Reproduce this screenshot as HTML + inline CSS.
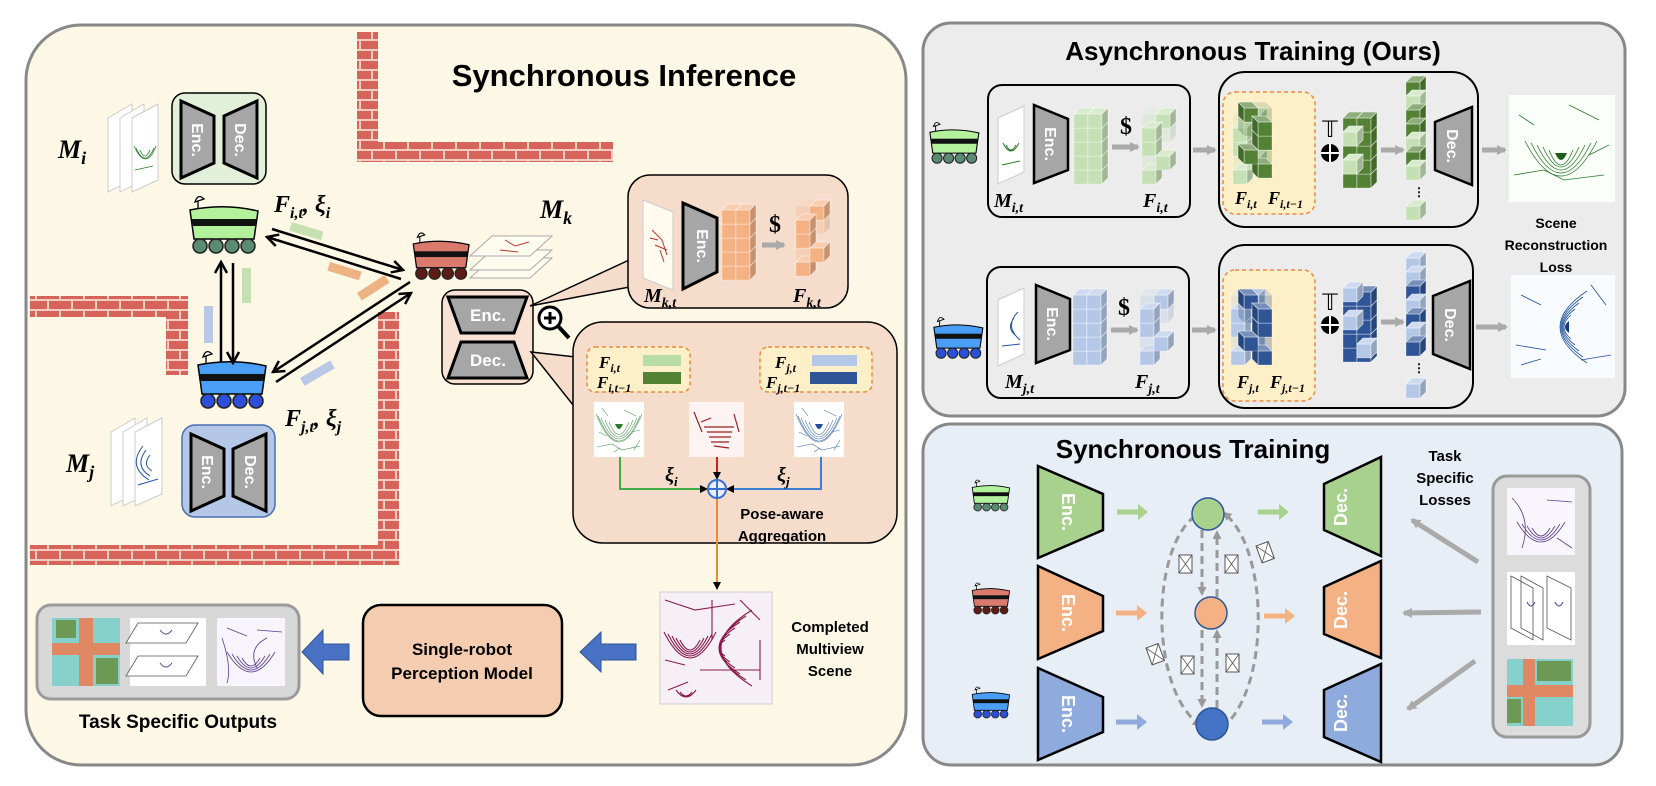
<!DOCTYPE html>
<html><head><meta charset="utf-8"><style>
html,body{margin:0;padding:0;background:#fff}
svg{display:block}
.t{font-family:"Liberation Sans",sans-serif;font-weight:bold}
.m{font-family:"Liberation Serif",serif;font-weight:bold;font-style:italic}
.w{fill:#fff;font-family:"Liberation Sans",sans-serif;font-weight:bold}
</style></head><body>
<svg width="1656" height="786" viewBox="0 0 1656 786" xmlns="http://www.w3.org/2000/svg">
<defs>
<pattern id="brick" width="24" height="20" patternUnits="userSpaceOnUse">
<rect width="24" height="20" fill="#f2cdbf"/>
<rect x="1" y="1" width="22" height="8" fill="#d6645a"/>
<rect x="-11" y="11" width="22" height="8" fill="#d6645a"/>
<rect x="13" y="11" width="22" height="8" fill="#d6645a"/>
</pattern>
<g id="cube" stroke="#fff" stroke-opacity=".5" stroke-width=".6">
<path d="M0 6h14v14H0z"/>
<path d="M0 6l6-6h14l-6 6z"/><path d="M0 6l6-6h14l-6 6z" fill="#fff" fill-opacity=".35"/>
<path d="M14 6l6-6v14l-6 6z"/><path d="M14 6l6-6v14l-6 6z" fill="#000" fill-opacity=".18"/>
</g>
<g id="grid">
<use href="#cube" x="0" y="60"/><use href="#cube" x="14" y="60"/>
<use href="#cube" x="0" y="46"/><use href="#cube" x="14" y="46"/>
<use href="#cube" x="0" y="32"/><use href="#cube" x="14" y="32"/>
<use href="#cube" x="0" y="18"/><use href="#cube" x="14" y="18"/>
<use href="#cube" x="0" y="4"/><use href="#cube" x="14" y="4"/>
</g>
<g id="sparse">
<g opacity=".3"><use href="#cube" x="0" y="46"/><use href="#cube" x="14" y="18"/><use href="#cube" x="0" y="4"/></g>
<use href="#cube" x="0" y="60"/><use href="#cube" x="14" y="46"/>
<use href="#cube" x="0" y="32"/><use href="#cube" x="14" y="4"/>
<use href="#cube" x="0" y="18"/>
</g>
<g id="robot">
<path d="M12 17 V8" stroke="#000" stroke-width="1.3" fill="none"/>
<path d="M9 9 q3-9 9-3 z" fill="#fff" stroke="#000" stroke-width="1.3"/>
<path d="M4 17 Q38 10 72 18 L68 46 H8 Z" stroke="#000" stroke-width="1.5"/>
<rect x="6" y="26" width="64" height="7" fill="#111"/>
<g style="fill:var(--w)" stroke="#222" stroke-width="1.5">
<circle cx="14" cy="53" r="7"/><circle cx="30" cy="53" r="7"/><circle cx="46" cy="53" r="7"/><circle cx="62" cy="53" r="7"/></g>
</g>
<g id="map">
<rect width="50" height="55" fill="#fff"/>
<g fill="none" stroke="currentColor" stroke-width=".6" opacity=".8">
<path d="M15 20 q10 25 20 0"/><path d="M11 18 q14 34 28 0"/><path d="M7 16 q18 42 36 0"/><path d="M4 14 q21 50 42 0"/><path d="M2 12 q23 56 46 0"/>
<path d="M3 45 l15 -3 l10 6 l18 -4"/><path d="M30 8 l12 6 M5 30 l8 4 M38 30 l8 -2 M8 6 l6 8 M40 48 l6 -10 M20 50 l6 -4"/></g>
<path d="M21 22 q4 10 8 0 z" fill="currentColor"/>
</g>
<g id="env"><rect width="13" height="18" fill="#fff" stroke="#555" stroke-width="1"/><path d="M0 0 L13 18 M13 0 L0 18" stroke="#555" stroke-width=".8"/></g>
<marker id="ah" markerWidth="8" markerHeight="8" refX="6" refY="4" orient="auto" markerUnits="userSpaceOnUse"><path d="M0 0 L8 4 L0 8 z" fill="#000"/></marker>
<marker id="ahk" markerWidth="14" markerHeight="14" refX="12" refY="7" orient="auto" markerUnits="userSpaceOnUse"><path d="M1 1 L12 7 L1 13" fill="none" stroke="#000" stroke-width="2.5"/></marker>
<marker id="ahg" markerWidth="10" markerHeight="10" refX="8" refY="5" orient="auto" markerUnits="userSpaceOnUse"><path d="M0 0 L10 5 L0 10 z" fill="#aaa"/></marker>
<marker id="ahd" markerWidth="9" markerHeight="9" refX="7" refY="4.5" orient="auto" markerUnits="userSpaceOnUse"><path d="M0 0 L9 4.5 L0 9 z" fill="#999"/></marker>
</defs>

<!-- LEFT PANEL -->
<rect x="26" y="25" width="880" height="740" rx="55" fill="#fdf7e6" stroke="#888" stroke-width="3"/>
<text x="624" y="86" class="t" font-size="31" text-anchor="middle">Synchronous Inference</text>
<rect x="357" y="32" width="21" height="130" fill="url(#brick)"/>
<rect x="357" y="142" width="256" height="20" fill="url(#brick)"/>
<rect x="30" y="296" width="158" height="21" fill="url(#brick)"/>
<rect x="166" y="296" width="22" height="79" fill="url(#brick)"/>
<rect x="378" y="312" width="21" height="253" fill="url(#brick)"/>
<rect x="30" y="545" width="369" height="20" fill="url(#brick)"/>

<text x="58" y="158" class="m" font-size="26">M<tspan font-size="18" dy="6">i</tspan></text>
<g fill="#fff" stroke="#ccc"><path d="M108 118 l24-14 v76 l-24 12z"/><path d="M120 118 l24-14 v76 l-24 12z"/></g>
<path d="M132 118 l26-14 v76 l-26 12z" fill="#fff" stroke="#ccc"/>
<path d="M140 150 q5 12 10 0 M136 148 q9 20 18 0 M134 146 q12 26 22 0 M135 170 l18 -4" stroke="#2d7a2d" fill="none" stroke-width=".8"/>
<rect x="172" y="93" width="94" height="91" rx="13" fill="#e2efd9" stroke="#000" stroke-width="1.5"/>
<path d="M181 101 L214 116 V163 L181 178Z" fill="#a6a6a6" stroke="#000" stroke-width="3"/>
<path d="M224 116 L257 101 V178 L224 163Z" fill="#a6a6a6" stroke="#000" stroke-width="3"/>
<text class="w" font-size="16" transform="translate(192,140) rotate(90)" text-anchor="middle">Enc.</text>
<text class="w" font-size="16" transform="translate(235,140) rotate(90)" text-anchor="middle">Dec.</text>
<use href="#robot" transform="translate(186,193) scale(1)" fill="#b3f19d" style="--w:#5b8a73"/>
<text x="274" y="212" class="m" font-size="24">F<tspan font-size="16" dy="6">i,t</tspan><tspan dy="-6">, ξ</tspan><tspan font-size="16" dy="6">i</tspan></text>

<use href="#robot" transform="translate(410,230) scale(.82)" fill="#d97a6c" style="--w:#5c1e14"/>
<text x="540" y="218" class="m" font-size="26">M<tspan font-size="18" dy="6">k</tspan></text>
<g fill="#fffbee" stroke="#aaa">
<path d="M478 250 h60 l-22 20 h-60z" transform="translate(14,8)"/>
<path d="M478 250 h60 l-22 20 h-60z" transform="translate(14,0)"/>
<path d="M478 236 h60 l-22 20 h-60z" transform="translate(14,0)"/>
</g>
<path d="M505 240 l10 6 l14-4 M500 250 l18 2" stroke="#b33" fill="none"/>

<use href="#robot" transform="translate(194,348)" fill="#4a9ef5" style="--w:#2b4fd8"/>
<text x="285" y="426" class="m" font-size="24">F<tspan font-size="16" dy="6">j,t</tspan><tspan dy="-6">, ξ</tspan><tspan font-size="16" dy="6">j</tspan></text>
<text x="66" y="472" class="m" font-size="26">M<tspan font-size="18" dy="6">j</tspan></text>
<g fill="#fff" stroke="#ccc"><path d="M111 432 l24-14 v76 l-24 12z"/><path d="M123 432 l24-14 v76 l-24 12z"/></g>
<path d="M135 432 l27-14 v76 l-27 12z" fill="#fff" stroke="#ccc"/>
<path d="M150 455 q-8 10 2 16 M146 450 q-12 16 4 26 M143 446 q-16 20 6 34 M138 485 l20 -6" stroke="#2454a0" fill="none" stroke-width="1"/>
<rect x="182" y="425" width="93" height="92" rx="13" fill="#b4c7e7" stroke="#4a6fb0" stroke-width="1.5"/>
<path d="M191 434 L224 449 V496 L191 511Z" fill="#a6a6a6" stroke="#000" stroke-width="3"/>
<path d="M233 449 L266 434 V511 L233 496Z" fill="#a6a6a6" stroke="#000" stroke-width="3"/>
<text class="w" font-size="16" transform="translate(202,472) rotate(90)" text-anchor="middle">Enc.</text>
<text class="w" font-size="16" transform="translate(245,472) rotate(90)" text-anchor="middle">Dec.</text>

<g stroke="#000" stroke-width="2.5" fill="none" marker-end="url(#ahk)">
<line x1="272" y1="229" x2="403" y2="270"/>
<line x1="401" y1="279" x2="267" y2="237"/>
<line x1="221" y1="362" x2="221" y2="262"/>
<line x1="233" y1="263" x2="233" y2="363"/>
<line x1="410" y1="282" x2="273" y2="372"/>
<line x1="276" y1="382" x2="411" y2="293"/>
</g>
<g opacity=".8">
<rect x="292" y="222" width="33" height="9" fill="#b9dba5" transform="rotate(17 292 222)"/>
<rect x="330" y="262" width="33" height="9" fill="#eaa36a" transform="rotate(17 330 262)"/>
<rect x="357" y="293" width="33" height="9" fill="#eaa36a" transform="rotate(-33 357 293)"/>
<rect x="300" y="378" width="35" height="9" fill="#a9bde4" transform="rotate(-30 300 378)"/>
<rect x="242" y="268" width="9" height="35" fill="#b9dba5"/>
<rect x="204" y="306" width="9" height="37" fill="#a9bde4"/>
</g>

<rect x="442" y="290" width="91" height="94" rx="13" fill="#f8e2d4" stroke="#000" stroke-width="1.5"/>
<path d="M448 297 L527 297 L514 333 L461 333Z" fill="#a6a6a6" stroke="#000" stroke-width="3"/>
<path d="M461 342 L514 342 L527 378 L448 378Z" fill="#a6a6a6" stroke="#000" stroke-width="3"/>
<text class="w" font-size="17" x="488" y="321" text-anchor="middle">Enc.</text>
<text class="w" font-size="17" x="488" y="366" text-anchor="middle">Dec.</text>

<path d="M530 306 L640 255 L640 285 Z" fill="#f5dccb" stroke="#000" stroke-width="1.5"/>
<rect x="628" y="175" width="220" height="133" rx="22" fill="#f5dccb" stroke="#000" stroke-width="1.5"/>
<path d="M643 200 l30 12 v78 l-30 -12z" fill="#fffbee" stroke="#ccc"/>
<path d="M652 230 l10 10 l5 15 M655 245 l12 5 M650 238 l8 2 M660 250 l4 12" stroke="#b33" fill="none"/>
<path d="M683 203 L717 218 V272 L683 289Z" fill="#a6a6a6" stroke="#000" stroke-width="3"/>
<text class="w" font-size="16" transform="translate(697,246) rotate(90)" text-anchor="middle">Enc.</text>
<use href="#grid" x="722" y="200" fill="#f4b183"/>
<text x="775" y="232" font-family="Liberation Serif,serif" font-weight="bold" font-size="24" text-anchor="middle">$</text>
<line x1="762" y1="245" x2="784" y2="245" stroke="#aaa" stroke-width="5" marker-end="url(#ahg)"/>
<use href="#sparse" x="796" y="196" fill="#f4b183"/>
<text x="644" y="302" class="m" font-size="20">M<tspan font-size="14" dy="5">k,t</tspan></text>
<text x="793" y="302" class="m" font-size="20">F<tspan font-size="14" dy="5">k,t</tspan></text>

<circle cx="550" cy="318" r="11" fill="#fff" stroke="#000" stroke-width="3"/>
<path d="M544 318h12M550 312v12" stroke="#000" stroke-width="3"/>
<line x1="558" y1="326" x2="569" y2="338" stroke="#000" stroke-width="4"/>

<path d="M531 352 L585 358 L585 420 Z" fill="#f5dccb" stroke="#000" stroke-width="1.5"/>
<rect x="573" y="322" width="324" height="221" rx="30" fill="#f5dccb" stroke="#000" stroke-width="1.5"/>
<rect x="574" y="360" width="12" height="58" fill="#f5dccb"/>
<rect x="587" y="347" width="103" height="45" rx="8" fill="#fdf0c8" stroke="#ec8a3c" stroke-width="1.5" stroke-dasharray="4 3"/>
<rect x="760" y="347" width="112" height="45" rx="8" fill="#fdf0c8" stroke="#ec8a3c" stroke-width="1.5" stroke-dasharray="4 3"/>
<text x="599" y="368" class="m" font-size="17">F<tspan font-size="12" dy="4">i,t</tspan></text>
<text x="597" y="388" class="m" font-size="17">F<tspan font-size="12" dy="4">i,t−1</tspan></text>
<text x="775" y="368" class="m" font-size="17">F<tspan font-size="12" dy="4">j,t</tspan></text>
<text x="766" y="388" class="m" font-size="17">F<tspan font-size="12" dy="4">j,t−1</tspan></text>
<rect x="643" y="355" width="38" height="11" fill="#b9dba5"/><rect x="643" y="372" width="38" height="12" fill="#548235"/>
<rect x="812" y="355" width="45" height="11" fill="#b4c7e7"/><rect x="810" y="372" width="47" height="12" fill="#2f5597"/>
<use href="#map" x="594" y="402" style="color:#2d7a2d"/>
<g transform="translate(689,402)"><rect width="55" height="55" fill="#fdf3f3"/><path d="M15 25 h30 M18 30 h25 M20 35 h22 M22 40 h18 M12 20 l10 -4 M25 44 l15 2 M5 10 l8 20 M45 12 l5 18" stroke="#9c2020" stroke-width="1.2"/></g>
<use href="#map" x="794" y="402" style="color:#1f4f9a"/>
<polyline points="620,457 620,489 706,489" fill="none" stroke="#3fae49" stroke-width="2" marker-end="url(#ah)"/>
<polyline points="821,457 821,489 728,489" fill="none" stroke="#3a7fd4" stroke-width="2" marker-end="url(#ah)"/>
<line x1="717" y1="457" x2="717" y2="478" stroke="#c0261a" stroke-width="2" marker-end="url(#ah)"/>
<text x="665" y="481" class="m" font-size="20">ξ<tspan font-size="13" dy="5">i</tspan></text>
<text x="777" y="481" class="m" font-size="20">ξ<tspan font-size="13" dy="5">j</tspan></text>
<line x1="717" y1="498" x2="717" y2="588" stroke="#ec8a3c" stroke-width="2" marker-end="url(#ah)"/>
<circle cx="717" cy="489" r="9" fill="#e8eefa" stroke="#3a6fd4" stroke-width="2"/>
<path d="M708 489h18M717 480v18" stroke="#3a6fd4" stroke-width="2"/>
<text x="782" y="519" class="t" font-size="15" text-anchor="middle">Pose-aware</text>
<text x="782" y="541" class="t" font-size="15" text-anchor="middle">Aggregation</text>

<rect x="660" y="592" width="112" height="112" fill="#f6f0f6" stroke="#ccc"/>
<g fill="none" stroke="#8a1a4a" stroke-width="1.1">
<path d="M680 640 q10 20 20 0 M676 638 q14 28 28 0 M672 636 q18 36 36 0 M668 634 q22 44 44 0 M664 632 q26 52 52 0"/>
<path d="M725 640 q-12 8 0 16 M730 634 q-22 14 0 28 M735 628 q-32 20 0 40 M740 622 q-42 26 0 52 M746 616 q-52 32 0 64 M752 610 q-62 38 0 76"/>
<path d="M665 600 l30 10 l40 -6 M668 690 l20 -8 M700 670 h60 M712 600 v40 M665 660 l20 5 M740 600 l20 20 M760 640 v40"/>
<path d="M680 692 q6 8 12 0 M676 690 q10 14 20 0"/></g>
<text x="830" y="632" class="t" font-size="15" text-anchor="middle">Completed</text>
<text x="830" y="654" class="t" font-size="15" text-anchor="middle">Multiview</text>
<text x="830" y="676" class="t" font-size="15" text-anchor="middle">Scene</text>
<polygon points="636,644 601,644 601,632 580,652 601,672 601,660 636,660" fill="#4a72c4" stroke="#2f5597"/>
<rect x="363" y="605" width="199" height="111" rx="18" fill="#f4cdb0" stroke="#000" stroke-width="2.5"/>
<text x="462" y="655" class="t" font-size="17" text-anchor="middle">Single-robot</text>
<text x="462" y="679" class="t" font-size="17" text-anchor="middle">Perception Model</text>
<polygon points="349,644 323,644 323,630 302,652 323,674 323,660 349,660" fill="#4a72c4" stroke="#2f5597"/>
<rect x="37" y="605" width="262" height="94" rx="14" fill="#d8d8d8" stroke="#9a9a9a" stroke-width="3"/>
<g transform="translate(52,618)"><rect width="68" height="68" fill="#86d1cc"/><rect x="27" width="14" height="68" fill="#e08864"/><rect y="25" width="68" height="12" fill="#e08864"/><rect x="4" y="2" width="20" height="18" fill="#6c9a55"/><rect x="44" y="40" width="22" height="26" fill="#6c9a55"/></g>
<g transform="translate(130,618)"><rect width="76" height="68" fill="#fff"/><path d="M8 5 h60 l-12 20 h-60z M8 38 h60 l-12 20 h-60z" fill="#fff" stroke="#555" stroke-width=".8"/><path d="M30 12 q6 8 12 0 M30 45 q6 8 12 0" stroke="#5b3c8c" fill="none"/></g>
<g transform="translate(217,618)"><rect width="68" height="68" fill="#f7f5fb"/><path d="M25 40 q9 16 18 0 M20 38 q14 24 28 0 M15 36 q19 32 38 0 M10 34 q24 40 48 0 M10 10 l20 8 M40 12 l25 2 M5 20 q10 30 5 45 M50 20 q-20 10 -10 30" stroke="#5b3c8c" fill="none" stroke-width=".8"/></g>
<text x="178" y="728" class="t" font-size="19" text-anchor="middle">Task Specific Outputs</text>

<!-- ASYNC PANEL -->
<rect x="923" y="23" width="702" height="393" rx="28" fill="#ececec" stroke="#888" stroke-width="3"/>
<text x="1253" y="60" class="t" font-size="26" text-anchor="middle">Asynchronous Training (Ours)</text>

<use href="#robot" transform="translate(927,120) scale(.72)" fill="#b3f19d" style="--w:#5b8a73"/>
<rect x="988" y="85" width="202" height="132" rx="14" fill="none" stroke="#000" stroke-width="2"/>
<path d="M998 118 l26-12 v66 l-26 12z" fill="#fff" stroke="#ccc"/>
<path d="M1006 145 q5 10 10 0 M1003 143 q8 16 16 0 M1002 165 l18 -4" stroke="#2d7a2d" fill="none"/>
<path d="M1034 105 L1068 119 V170 L1034 183Z" fill="#a6a6a6" stroke="#000" stroke-width="2.5"/>
<text class="w" font-size="16" transform="translate(1045,144) rotate(90)" text-anchor="middle">Enc.</text>
<use href="#grid" x="1074" y="104" fill="#c5e0b4"/>
<text x="1126" y="134" font-family="Liberation Serif,serif" font-weight="bold" font-size="24" text-anchor="middle">$</text>
<line x1="1112" y1="147" x2="1138" y2="147" stroke="#aaa" stroke-width="5" marker-end="url(#ahg)"/>
<use href="#sparse" x="1142" y="104" fill="#c5e0b4"/>
<text x="994" y="207" class="m" font-size="20">M<tspan font-size="14" dy="5">i,t</tspan></text>
<text x="1143" y="207" class="m" font-size="20">F<tspan font-size="14" dy="5">i,t</tspan></text>
<line x1="1193" y1="150" x2="1215" y2="150" stroke="#aaa" stroke-width="5" marker-end="url(#ahg)"/>
<rect x="1219" y="72" width="259" height="155" rx="26" fill="none" stroke="#000" stroke-width="2"/>
<rect x="1223" y="92" width="92" height="122" rx="12" fill="#fdf0c8" stroke="#ec8a3c" stroke-width="1.5" stroke-dasharray="4 3"/>
<use href="#sparse" x="1233" y="104" fill="#c5e0b4"/>
<use href="#sparse" x="1272" y="98" fill="#548235" transform="translate(2544,0) scale(-1,1)" />
<text x="1235" y="204" class="m" font-size="18">F<tspan font-size="12" dy="4">i,t</tspan></text>
<text x="1268" y="204" class="m" font-size="18">F<tspan font-size="12" dy="4">i,t−1</tspan></text>
<text x="1330" y="137" font-family="DejaVu Sans,sans-serif" font-size="22" text-anchor="middle">𝕋</text>
<circle cx="1330" cy="153" r="9" fill="#000"/><path d="M1321 153h18M1330 144v18" stroke="#fff" stroke-width="2"/>
<use href="#grid" x="1343" y="108" fill="#548235"/>
<g fill="#c5e0b4"><use href="#cube" x="1343" y="154"/><use href="#cube" x="1343" y="126"/></g>
<line x1="1381" y1="150" x2="1403" y2="150" stroke="#aaa" stroke-width="5" marker-end="url(#ahg)"/>
<g fill="#548235"><use href="#cube" x="1406" y="76"/><use href="#cube" x="1406" y="90" fill="#c5e0b4"/><use href="#cube" x="1406" y="104"/><use href="#cube" x="1406" y="118"/><use href="#cube" x="1406" y="132" fill="#c5e0b4"/><use href="#cube" x="1406" y="146"/><use href="#cube" x="1406" y="160" fill="#c5e0b4"/><use href="#cube" x="1406" y="200" fill="#c5e0b4"/></g>
<text x="1413" y="196" font-size="12" font-weight="bold" font-family="Liberation Sans">⋮</text>
<path d="M1435 122 L1472 107 V185 L1435 170Z" fill="#a6a6a6" stroke="#000" stroke-width="2.5"/>
<text class="w" font-size="16" transform="translate(1447,146) rotate(90)" text-anchor="middle">Dec.</text>
<line x1="1482" y1="150" x2="1505" y2="150" stroke="#aaa" stroke-width="5" marker-end="url(#ahg)"/>
<g transform="translate(1509,95)"><rect width="106" height="107" fill="#fafffa"/><g fill="none" stroke="#2d7a2d" stroke-width=".8"><path d="M40 55 q12 30 24 0 M34 52 q18 40 36 0 M28 50 q24 50 48 0 M22 48 q30 60 60 0 M16 46 q36 70 72 0 M5 80 l30 -5 l20 10 l40 -5 M60 10 l30 15 M10 20 l15 10 M80 60 l20 -10"/></g><path d="M46 58 q6 14 12 0z" fill="#1a5e1a"/></g>
<text x="1556" y="228" class="t" font-size="14" text-anchor="middle">Scene</text>
<text x="1556" y="250" class="t" font-size="14" text-anchor="middle">Reconstruction</text>
<text x="1556" y="272" class="t" font-size="14" text-anchor="middle">Loss</text>

<use href="#robot" transform="translate(931,315) scale(.72)" fill="#4a9ef5" style="--w:#2b4fd8"/>
<rect x="987" y="267" width="202" height="131" rx="14" fill="none" stroke="#000" stroke-width="2"/>
<path d="M998 300 l26-12 v66 l-26 12z" fill="#fff" stroke="#ccc"/>
<path d="M1014 318 q-8 10 2 18 M1018 312 q-14 14 2 28 M1002 346 l18 -2" stroke="#2454a0" fill="none"/>
<path d="M1036 285 L1070 299 V350 L1036 363Z" fill="#a6a6a6" stroke="#000" stroke-width="2.5"/>
<text class="w" font-size="16" transform="translate(1047,324) rotate(90)" text-anchor="middle">Enc.</text>
<use href="#grid" x="1073" y="285" fill="#b4c7e7"/>
<text x="1124" y="315" font-family="Liberation Serif,serif" font-weight="bold" font-size="24" text-anchor="middle">$</text>
<line x1="1111" y1="330" x2="1137" y2="330" stroke="#aaa" stroke-width="5" marker-end="url(#ahg)"/>
<use href="#sparse" x="1140" y="285" fill="#b4c7e7"/>
<text x="1005" y="388" class="m" font-size="20">M<tspan font-size="14" dy="5">j,t</tspan></text>
<text x="1135" y="388" class="m" font-size="20">F<tspan font-size="14" dy="5">j,t</tspan></text>
<line x1="1192" y1="330" x2="1215" y2="330" stroke="#aaa" stroke-width="5" marker-end="url(#ahg)"/>
<rect x="1219" y="245" width="254" height="163" rx="26" fill="none" stroke="#000" stroke-width="2"/>
<rect x="1223" y="270" width="92" height="131" rx="12" fill="#fdf0c8" stroke="#ec8a3c" stroke-width="1.5" stroke-dasharray="4 3"/>
<use href="#sparse" x="1231" y="285" fill="#b4c7e7"/>
<use href="#sparse" x="1272" y="285" fill="#2f5597" transform="translate(2544,0) scale(-1,1)"/>
<text x="1237" y="388" class="m" font-size="18">F<tspan font-size="12" dy="4">j,t</tspan></text>
<text x="1270" y="388" class="m" font-size="18">F<tspan font-size="12" dy="4">j,t−1</tspan></text>
<text x="1330" y="310" font-family="DejaVu Sans,sans-serif" font-size="22" text-anchor="middle">𝕋</text>
<circle cx="1330" cy="325" r="9" fill="#000"/><path d="M1321 325h18M1330 316v18" stroke="#fff" stroke-width="2"/>
<use href="#grid" x="1343" y="282" fill="#2f5597"/>
<g fill="#b4c7e7"><use href="#cube" x="1343" y="310"/><use href="#cube" x="1343" y="282"/><use href="#cube" x="1357" y="338"/></g>
<line x1="1381" y1="322" x2="1403" y2="322" stroke="#aaa" stroke-width="5" marker-end="url(#ahg)"/>
<g fill="#b4c7e7"><use href="#cube" x="1406" y="252"/><use href="#cube" x="1406" y="266"/><use href="#cube" x="1406" y="280" fill="#2f5597"/><use href="#cube" x="1406" y="294"/><use href="#cube" x="1406" y="308" fill="#2f5597"/><use href="#cube" x="1406" y="322"/><use href="#cube" x="1406" y="336" fill="#2f5597"/><use href="#cube" x="1406" y="378"/></g>
<text x="1413" y="372" font-size="12" font-weight="bold" font-family="Liberation Sans">⋮</text>
<path d="M1433 296 L1470 281 V369 L1433 354Z" fill="#a6a6a6" stroke="#000" stroke-width="2.5"/>
<text class="w" font-size="16" transform="translate(1445,325) rotate(90)" text-anchor="middle">Dec.</text>
<line x1="1476" y1="327" x2="1506" y2="327" stroke="#aaa" stroke-width="5" marker-end="url(#ahg)"/>
<g transform="translate(1511,275)"><rect width="104" height="103" fill="#f8fbff"/><g fill="none" stroke="#1f4f9a" stroke-width=".8"><path d="M60 40 q-14 12 0 24 M64 34 q-24 18 0 36 M68 28 q-34 24 0 48 M72 22 q-44 30 0 60 M76 16 q-54 36 0 72 M5 70 l30 5 M70 85 l30 -5 M10 20 l20 10 M80 10 l15 20 M10 90 l20 -6"/></g><path d="M58 46 q-8 6 0 12z" fill="#163c7a"/></g>

<!-- SYNC TRAINING PANEL -->
<rect x="923" y="424" width="699" height="341" rx="28" fill="#e8eef6" stroke="#888" stroke-width="3"/>
<text x="1193" y="458" class="t" font-size="26" text-anchor="middle">Synchronous Training</text>
<use href="#robot" transform="translate(970,478) scale(.55)" fill="#b3f19d" style="--w:#5b8a73"/>
<use href="#robot" transform="translate(970,581) scale(.55)" fill="#d97a6c" style="--w:#5c1e14"/>
<use href="#robot" transform="translate(970,685) scale(.55)" fill="#4a9ef5" style="--w:#2b4fd8"/>
<g stroke="#000" stroke-width="2.5">
<path d="M1038 466 L1103 494 V530 L1038 558Z" fill="#a9d18e"/>
<path d="M1038 566 L1103 596 V631 L1038 659Z" fill="#f4b183"/>
<path d="M1038 668 L1103 697 V732 L1038 760Z" fill="#8faadc"/>
<path d="M1324 484 L1381 457 V556 L1324 530Z" fill="#a9d18e"/>
<path d="M1324 587 L1381 561 V658 L1324 634Z" fill="#f4b183"/>
<path d="M1324 690 L1381 664 V762 L1324 737Z" fill="#8faadc"/>
</g>
<text class="w" font-size="18" transform="translate(1062,512) rotate(90)" text-anchor="middle">Enc.</text>
<text class="w" font-size="18" transform="translate(1062,613) rotate(90)" text-anchor="middle">Enc.</text>
<text class="w" font-size="18" transform="translate(1062,714) rotate(90)" text-anchor="middle">Enc.</text>
<text class="w" font-size="18" transform="translate(1347,507) rotate(-90)" text-anchor="middle">Dec.</text>
<text class="w" font-size="18" transform="translate(1347,610) rotate(-90)" text-anchor="middle">Dec.</text>
<text class="w" font-size="18" transform="translate(1347,713) rotate(-90)" text-anchor="middle">Dec.</text>
<g stroke-width="5">
<line x1="1117" y1="512" x2="1140" y2="512" stroke="#a9d18e"/><path d="M1138 504 L1148 512 L1138 520z" fill="#a9d18e"/>
<line x1="1116" y1="613" x2="1139" y2="613" stroke="#f4b183"/><path d="M1137 605 L1147 613 L1137 621z" fill="#f4b183"/>
<line x1="1116" y1="722" x2="1139" y2="722" stroke="#8faadc"/><path d="M1137 714 L1147 722 L1137 730z" fill="#8faadc"/>
<line x1="1258" y1="512" x2="1281" y2="512" stroke="#a9d18e"/><path d="M1279 504 L1289 512 L1279 520z" fill="#a9d18e"/>
<line x1="1264" y1="616" x2="1287" y2="616" stroke="#f4b183"/><path d="M1285 608 L1295 616 L1285 624z" fill="#f4b183"/>
<line x1="1262" y1="722" x2="1285" y2="722" stroke="#8faadc"/><path d="M1283 714 L1293 722 L1283 730z" fill="#8faadc"/>
</g>
<g fill="none" stroke="#999" stroke-width="3" stroke-dasharray="8 5">
<path d="M1195 516 C1150 550 1150 690 1200 725" marker-end="url(#ahd)"/>
<path d="M1222 728 C1270 690 1270 550 1224 513" marker-end="url(#ahd)"/>
<line x1="1202" y1="530" x2="1202" y2="594" marker-end="url(#ahd)"/>
<line x1="1217" y1="597" x2="1217" y2="532" marker-end="url(#ahd)"/>
<line x1="1202" y1="630" x2="1202" y2="706" marker-end="url(#ahd)"/>
<line x1="1217" y1="708" x2="1217" y2="631" marker-end="url(#ahd)"/>
</g>
<circle cx="1208" cy="514" r="16" fill="#a9d18e" stroke="#2f5597" stroke-width="1.5"/>
<circle cx="1211" cy="613" r="16" fill="#f4b183" stroke="#2f5597" stroke-width="1.5"/>
<circle cx="1212" cy="724" r="16" fill="#4472c4" stroke="#2f5597" stroke-width="1.5"/>
<use href="#env" x="1179" y="555"/><use href="#env" x="1225" y="555"/>
<use href="#env" x="1181" y="656"/><use href="#env" x="1226" y="654"/>
<use href="#env" transform="translate(1256,546) rotate(-20)"/>
<use href="#env" transform="translate(1146,648) rotate(-20)"/>
<text x="1445" y="461" class="t" font-size="15" text-anchor="middle">Task</text>
<text x="1445" y="483" class="t" font-size="15" text-anchor="middle">Specific</text>
<text x="1445" y="505" class="t" font-size="15" text-anchor="middle">Losses</text>
<g stroke="#aaa" stroke-width="5" marker-end="url(#ahg)">
<line x1="1478" y1="562" x2="1412" y2="520"/>
<line x1="1481" y1="612" x2="1404" y2="613"/>
<line x1="1475" y1="661" x2="1408" y2="709"/>
</g>
<rect x="1493" y="476" width="97" height="261" rx="14" fill="#dcdcdc" stroke="#9a9a9a" stroke-width="3"/>
<g transform="translate(1507,488)"><rect width="68" height="67" fill="#f8f6fc"/><path d="M25 40 q9 16 18 0 M20 38 q14 24 28 0 M15 36 q19 32 38 0 M10 34 q24 40 48 0 M5 10 q20 20 10 50 M40 12 l25 2 M50 50 l15 10" stroke="#5b3c8c" fill="none" stroke-width=".8"/></g>
<g transform="translate(1507,572)"><rect width="68" height="73" fill="#fff"/><path d="M4 4 l22 12 v52 l-22 -12z M14 4 l22 12 v52 l-22 -12z M40 4 l24 12 v52 l-24 -12z" fill="#fff" stroke="#555" stroke-width=".8"/><path d="M20 30 q4 8 8 0 M48 30 q4 8 8 0" stroke="#5b3c8c" fill="none"/></g>
<g transform="translate(1507,659)"><rect width="66" height="67" fill="#86d1cc"/><rect x="16" width="12" height="67" fill="#e08864"/><rect y="26" width="66" height="12" fill="#e08864"/><rect x="30" y="2" width="34" height="20" fill="#6c9a55"/><rect x="0" y="40" width="14" height="24" fill="#6c9a55"/></g>
</svg>
</body></html>
